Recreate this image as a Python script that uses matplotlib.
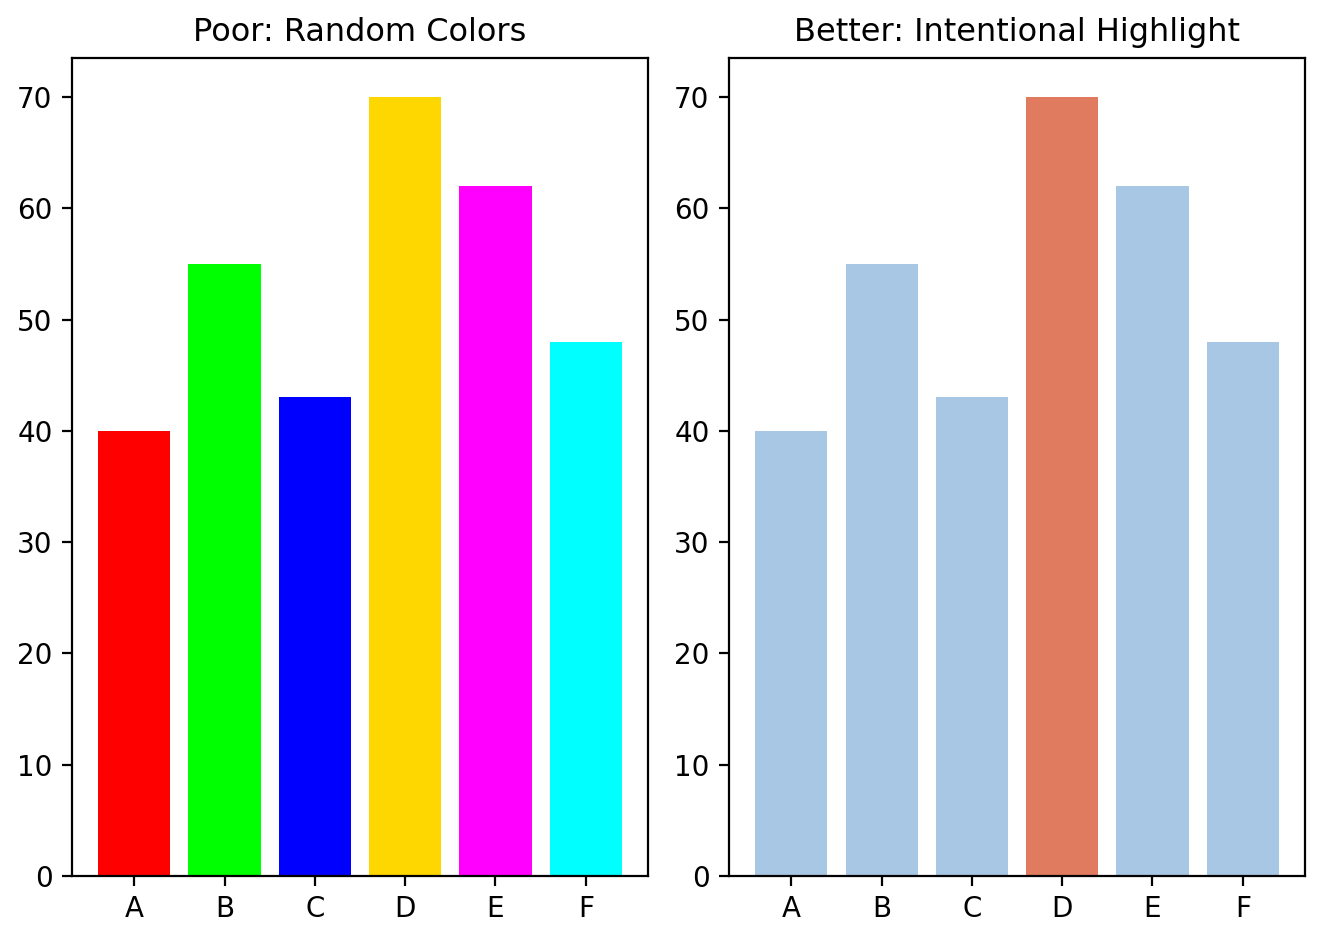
import matplotlib
matplotlib.use("Agg")
import matplotlib.pyplot as plt

categories = ["A", "B", "C", "D", "E", "F"]
values = [40, 55, 43, 70, 62, 48]
poor_colors = ["#ff0000", "#00ff00", "#0000ff", "#ffd700", "#ff00ff", "#00ffff"]
highlight = "D"

fig, (ax1, ax2) = plt.subplots(1, 2, figsize=(6.62, 4.7), dpi=200)
fig.subplots_adjust(left=0.0544, right=0.9857, top=0.9383, bottom=0.0681, wspace=0.1406)

ax1.bar(categories, values, color=poor_colors)
ax1.set_title("Poor: Random Colors", fontsize=11.5)

better_colors = ["#e07b60" if c == highlight else "#a7c7e4" for c in categories]
ax2.bar(categories, values, color=better_colors)
ax2.set_title("Better: Intentional Highlight", fontsize=11.5)

fig.savefig("out.png", dpi=200)
plt.close(fig)
